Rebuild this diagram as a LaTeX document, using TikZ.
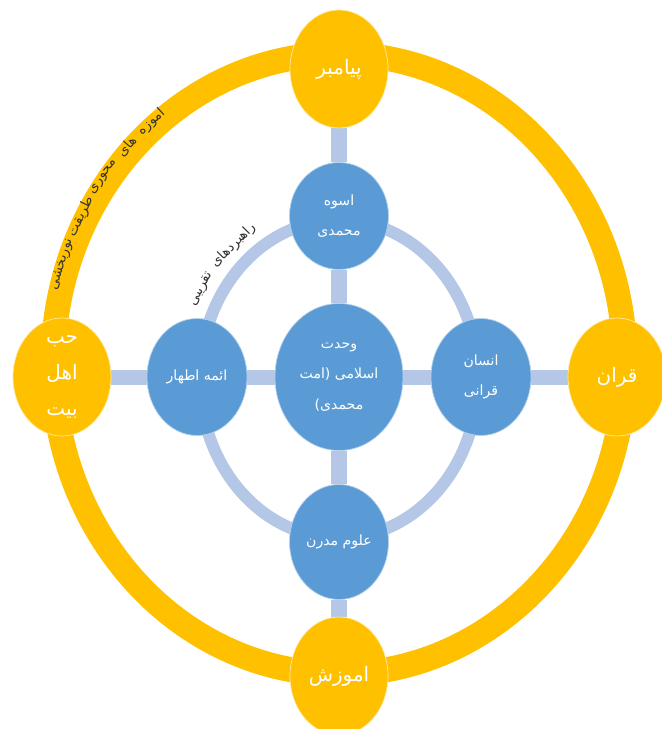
\documentclass[tikz,border=0pt]{standalone}
\usepackage{fontspec}
\newfontfamily\farsi[Script=Arabic]{DejaVu Sans}
\TeXXeTstate=1
\usetikzlibrary{shapes.geometric,backgrounds}
\definecolor{gold}{RGB}{255,192,0}
\definecolor{ballblue}{RGB}{91,155,213}
\definecolor{linkblue}{RGB}{180,199,231}
\tikzset{
  goldball/.style={ellipse, fill=gold, draw=gold!35!white, line width=0.6pt,
    minimum width=2.94cm, minimum height=3.54cm, inner sep=0pt, text=white,
    align=center, font=\farsi\fontsize{17}{31}\selectfont},
  blueball/.style={ellipse, fill=ballblue, draw=ballblue!45!white, line width=0.6pt,
    minimum width=2.97cm, minimum height=3.45cm, inner sep=0pt, text=white,
    align=center, font=\farsi\fontsize{12}{26}\selectfont},
  link/.style={draw=linkblue, line width=0.45cm},
  ringword/.style={inner sep=0pt, text=black!80, font=\farsi\fontsize{11.5}{13}\selectfont},
}

\begin{document}
\begin{tikzpicture}[x=0.03cm, y=0.03cm]
  \useasboundingbox (-339,-365) rectangle (322,364);

  % outer circle of nodes
  \node[goldball] (payambar) at (0,295) {\beginR پیامبر\endR};
  \node[goldball] (quran) at (278,-13) {\beginR قران\endR};
  \node[goldball] (amoozesh) at (0,-312) {\beginR اموزش\endR};
  \node[goldball] (ahlebeit) at (-277,-13) {\beginR حب\endR\\\beginR اهل\endR\\\beginR بیت\endR};

  % inner nodes
  \node[blueball, minimum height=3.21cm] (osve) at (0,148) {\beginR اسوه\endR\\\beginR محمدی\endR};
  \node[blueball, minimum width=3cm, minimum height=3.51cm] (ensan) at (142,-13) {\beginR انسان\endR\\\beginR قرانی\endR};
  \node[blueball] (oloom) at (0,-178) {\beginR علوم مدرن\endR};
  \node[blueball, minimum width=3cm, minimum height=3.51cm] (aemme) at (-142,-13) {\beginR ائمه اطهار\endR};
  \node[blueball, minimum width=3.84cm, minimum height=4.41cm] (vahdat) at (0,-13)
    {\beginR وحدت\endR\\\beginR اسلامی (امت\endR\\\beginR محمدی)\endR};

  \begin{scope}[on background layer]
    \draw[gold, line width=0.75cm] (0,0) ellipse (286 and 310);
    \draw[linkblue, line width=0.36cm] (0,-15) ellipse (139 and 159);
    \draw[link] (payambar) -- (osve);
    \draw[link] (osve) -- (vahdat);
    \draw[link] (vahdat) -- (oloom);
    \draw[link] (oloom) -- (amoozesh);
    \draw[link] (vahdat) -- (ensan);
    \draw[link] (ensan) -- (quran);
    \draw[link] (vahdat) -- (aemme);
    \draw[link] (aemme) -- (ahlebeit);
  \end{scope}

  % text along the outer ring
  \foreach \wrd/\t [count=\i] in {اموزه/130, های/136.6, محوری/143.7, طریقت/152.2, نوربخشی/161.6}{
    \pgfmathsetmacro{\rot}{atan2(-316*cos(\t), 292*sin(\t))}
    \node[ringword, rotate=\rot] (outer\i) at (\t:292 and 316) {\beginR\wrd\endR};
  }
  % text along the inner ring
  \begin{scope}[shift={(0,-15)}]
    \foreach \wrd/\t [count=\i] in {راهبردهای/131.7, تقریبی/149.9}{
      \pgfmathsetmacro{\rot}{atan2(-179*cos(\t), 159*sin(\t))}
      \node[ringword, rotate=\rot] (inner\i) at (\t:159 and 179) {\beginR\wrd\endR};
    }
  \end{scope}
\end{tikzpicture}
\end{document}
